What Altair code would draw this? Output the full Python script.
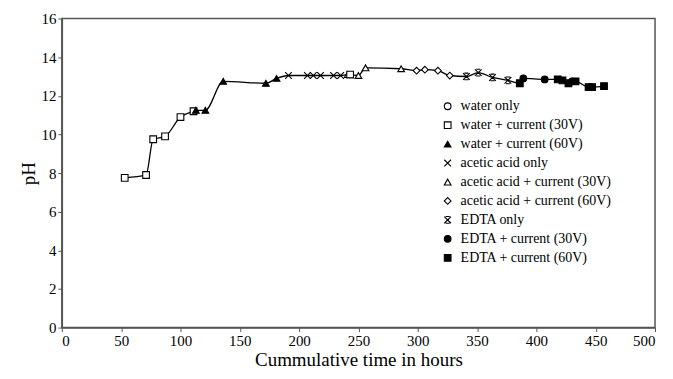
import altair as alt
import pandas as pd

series_names = [
    "water only",
    "water + current (30V)",
    "water + current (60V)",
    "acetic acid only",
    "acetic acid + current (30V)",
    "acetic acid + current (60V)",
    "EDTA only",
    "EDTA + current (30V)",
    "EDTA + current (60V)",
]

water_only_t = []
water_only_ph = []
water_30_t = [53, 71, 77, 87, 100, 111, 243]
water_30_ph = [7.75, 7.9, 9.75, 9.9, 10.9, 11.2, 13.1]
water_60_t = [113, 121, 136, 172, 181]
water_60_ph = [11.25, 11.25, 12.75, 12.65, 12.9]
acetic_only_t = [191, 207, 212, 218, 229, 235]
acetic_only_ph = [13.05, 13.05, 13.05, 13.05, 13.05, 13.05]
acetic_30_t = [241, 250, 256, 286]
acetic_30_ph = [13.1, 13.05, 13.45, 13.4]
acetic_60_t = [299, 306, 317, 327]
acetic_60_ph = [13.3, 13.35, 13.3, 13.05]
edta_only_t = [341, 351, 363, 376]
edta_only_ph = [13.0, 13.2, 12.95, 12.8]
edta_30_t = [389, 407, 430]
edta_30_ph = [12.9, 12.85, 12.75]
edta_60_t = [386, 418, 422, 427, 433, 444, 447, 457]
edta_60_ph = [12.65, 12.85, 12.8, 12.65, 12.75, 12.45, 12.45, 12.5]

shape_x = "M-1,-1L1,1M-1,1L1,-1"
shape_edta = "M-1,-1L1,1M-1,1L1,-1M-0.6,-1L0.6,-1M-0.6,1L0.6,1"
shapes = ["circle", "square", "triangle-up", shape_x, "triangle-up", "diamond",
          shape_edta, "circle", "square"]
fills = ["white", "white", "black", "white", "white", "white", "white", "black", "black"]

groups = [
    (water_only_t, water_only_ph), (water_30_t, water_30_ph), (water_60_t, water_60_ph),
    (acetic_only_t, acetic_only_ph), (acetic_30_t, acetic_30_ph), (acetic_60_t, acetic_60_ph),
    (edta_only_t, edta_only_ph), (edta_30_t, edta_30_ph), (edta_60_t, edta_60_ph),
]
rows = []
for name, (ts, ps) in zip(series_names, groups):
    for t, p in zip(ts, ps):
        rows.append({"t": t, "ph": p, "series": name})
df = pd.DataFrame(rows).sort_values("t").reset_index(drop=True)

font = "Liberation Serif"

x = alt.X("t:Q", title="Cummulative time in hours",
          scale=alt.Scale(domain=[0, 500], nice=False),
          axis=alt.Axis(values=list(range(0, 501, 50)), grid=False))
y = alt.Y("ph:Q", title="pH",
          scale=alt.Scale(domain=[0, 16], nice=False),
          axis=alt.Axis(values=list(range(0, 17, 2)), grid=False))

line = alt.Chart(df).mark_line(color="black", strokeWidth=1.3, interpolate="monotone").encode(
    x=x, y=y, order="t:Q")

pts = alt.Chart(df).mark_point(size=45, stroke="black", strokeWidth=1.1, opacity=1).encode(
    x=x, y=y,
    shape=alt.Shape("series:N", title=None,
                    scale=alt.Scale(domain=series_names, range=shapes)),
    fill=alt.Fill("series:N", title=None,
                  scale=alt.Scale(domain=series_names, range=fills),
                  legend=alt.Legend(orient="none", legendX=380, legendY=81,
                                    labelFont=font, labelFontSize=14, labelColor="black",
                                    symbolStrokeColor="black", symbolSize=45,
                                    symbolStrokeWidth=1.1, rowPadding=5, labelOffset=6)),
)

chart = (line + pts).properties(
    width=595, height=310,
    autosize=alt.AutoSizeParams(type="none"),
    padding={"left": 54, "top": 10, "right": 10, "bottom": 50},
).configure_view(stroke="#555", strokeWidth=1.5).configure_axis(
    labelFont=font, titleFont=font, labelFontSize=15, titleFontSize=19,
    titleFontWeight="normal", labelColor="black", titleColor="black",
    domainColor="#555", domainWidth=1.5, tickColor="#555", tickSize=4,
).configure_axisX(titlePadding=2).configure_axisY(titlePadding=2)

chart.save("out.html", embed_options={"renderer": "svg", "actions": False})
